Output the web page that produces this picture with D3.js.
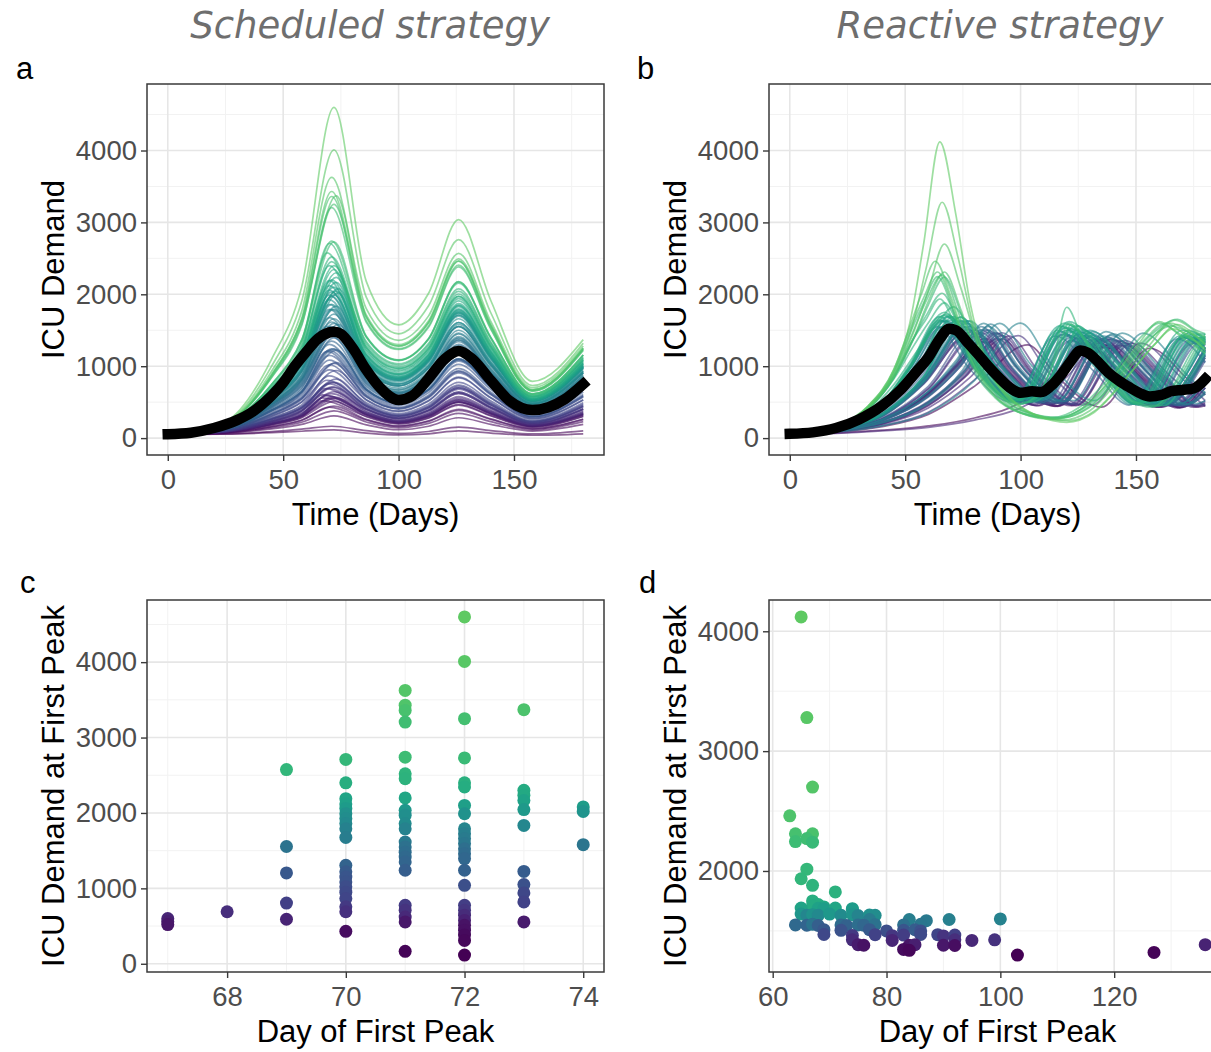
<!DOCTYPE html>
<html>
<head>
<meta charset="utf-8">
<script src="https://cdn.jsdelivr.net/npm/d3@7"></script>
<style>
  body { margin: 0; background: #fff; }
</style>
</head>
<body>
<svg id="fig" width="1211" height="1052"></svg>
<script>
// ---------------- Scheduled strategy: first peak of each simulation ----------------
const schedPeakDay = [
  67,67,67, 68, 69,69,69,69,69,
  70,70,70,70,70,70,70,70,70,70,70,70,70,70,70,70,70,70,70,70,
  71,71,71,71,71,71,71,71,71,71,71,71,71,71,71,71,71,71,71,71,71,71,71,
  72,72,72,72,72,72,72,72,72,72,72,72,72,72,72,72,72,72,72,72,72,72,72,72,72,72,
  73,73,73,73,73,73,73,73,73,73,73,
  74,74,74
];
const schedPeakValue = [
  600,560,520, 690, 2575,1555,1205,805,590,
  2710,2400,2190,2120,2060,1990,1925,1860,1790,1675,1305,1220,1150,1085,1020,950,865,755,690,430,
  3625,3430,3360,3205,2740,2520,2455,2200,2035,1970,1860,1790,1615,1550,1480,1415,1350,1240,775,710,620,555,165,
  4600,4010,3250,2730,2400,2345,2100,1990,1790,1725,1660,1595,1525,1460,1395,1240,1040,775,710,645,575,510,445,380,310,115,
  3370,2300,2235,2165,2045,1835,1225,1050,940,820,555,
  2080,2020,1580
];

// ICU demand of each scheduled run on these days (its first peak is added from the arrays above)
const schedKeyDays = [0, 25, 45, 58, 86, 100, 113, 126, 140, 158, 180];
const schedShape = [
  [50,90,210,330,350,235,330,540,365,180,350],
  [50,87,198,310,327,218,307,504,340,168,328],
  [50,84,186,290,304,201,284,468,315,156,306],
  [50,94,233,375,398,271,380,621,417,202,397],
  [50,188,715,1293,1343,1034,1320,2075,1337,597,1125],
  [50,143,469,808,838,622,848,1365,897,424,822],
  [50,125,380,630,660,475,660,1070,705,335,670],
  [50,100,270,430,460,315,440,720,480,230,460],
  [50,90,207,325,345,231,325,531,359,177,345],
  [50,189,742,1340,1402,1077,1374,2156,1385,611,1152],
  [50,182,677,1213,1260,970,1247,1970,1273,575,1087],
  [50,175,627,1115,1155,886,1155,1843,1195,543,1036],
  [50,171,610,1084,1120,858,1128,1798,1168,533,1016],
  [50,168,595,1057,1090,834,1104,1759,1144,524,998],
  [50,165,578,1025,1055,806,1075,1712,1115,513,977],
  [50,161,561,993,1023,780,1042,1660,1082,500,954],
  [50,158,545,960,990,754,1010,1608,1050,487,931],
  [50,155,528,925,955,726,975,1552,1015,473,907],
  [50,149,499,868,898,674,911,1460,958,450,866],
  [50,130,406,683,713,519,717,1160,763,361,717],
  [50,126,385,640,670,484,671,1087,716,340,679],
  [50,122,365,605,635,455,632,1025,676,322,642],
  [50,119,345,573,603,429,597,966,640,306,606],
  [50,116,326,540,570,403,561,908,602,290,571],
  [50,111,307,505,535,375,522,847,562,272,535],
  [50,105,286,463,493,341,476,776,516,248,493],
  [50,98,258,408,437,297,415,681,454,219,435],
  [50,94,233,375,398,271,380,621,417,202,397],
  [50,77,159,245,252,163,232,387,259,129,257],
  [50,210,930,1760,1800,1360,1700,2570,1620,700,1280],
  [50,206,886,1665,1713,1299,1632,2494,1577,674,1254],
  [50,204,872,1632,1682,1278,1604,2460,1558,666,1244],
  [50,200,841,1562,1612,1232,1542,2382,1512,650,1220],
  [50,190,748,1366,1416,1087,1386,2176,1398,614,1158],
  [50,186,704,1269,1319,1016,1298,2042,1318,592,1115],
  [50,183,690,1239,1288,992,1270,2004,1294,583,1101],
  [50,175,630,1120,1160,890,1160,1850,1200,545,1040],
  [50,167,589,1046,1078,824,1094,1743,1134,520,990],
  [50,164,573,1015,1045,798,1065,1696,1105,509,970],
  [50,158,545,960,990,754,1010,1608,1050,487,931],
  [50,155,528,925,955,726,975,1552,1015,473,907],
  [50,146,484,838,868,646,878,1412,928,439,846],
  [50,142,468,805,835,620,845,1360,894,423,820],
  [50,139,450,770,800,592,810,1304,857,405,792],
  [50,136,434,738,768,566,778,1253,823,389,766],
  [50,132,418,705,735,539,743,1197,787,373,737],
  [50,127,390,650,680,492,682,1104,728,345,688],
  [50,99,263,418,447,305,426,699,465,224,444],
  [50,95,242,385,410,279,391,639,429,207,408],
  [50,91,216,340,361,243,341,558,377,185,361],
  [50,87,197,307,324,216,304,500,337,167,326],
  [50,58,90,124,103,66,92,153,105,58,101],
  [50,230,1100,2100,2180,1575,2015,3040,1910,790,1370],
  [50,220,1000,1900,1960,1450,1840,2760,1740,730,1320],
  [50,201,850,1582,1632,1245,1560,2405,1525,655,1228],
  [50,190,746,1362,1412,1084,1382,2172,1395,613,1155],
  [50,182,677,1213,1260,970,1247,1970,1273,575,1087],
  [50,180,664,1187,1233,948,1222,1939,1253,567,1074],
  [50,170,605,1075,1110,850,1120,1785,1160,530,1010],
  [50,165,578,1025,1055,806,1075,1712,1115,513,977],
  [50,155,528,925,955,726,975,1552,1015,473,907],
  [50,151,511,893,923,696,939,1500,982,460,884],
  [50,148,495,860,890,668,903,1448,951,447,862],
  [50,145,479,828,858,638,867,1396,917,434,838],
  [50,141,461,793,823,610,834,1340,881,416,810],
  [50,138,445,760,790,584,802,1288,846,400,784],
  [50,135,429,728,758,558,767,1236,812,384,758],
  [50,127,390,650,680,492,682,1104,728,345,688],
  [50,117,332,550,580,411,572,926,613,295,582],
  [50,99,263,418,447,305,426,699,465,224,444],
  [50,95,242,385,410,279,391,639,429,207,408],
  [50,92,224,352,374,252,355,578,391,191,374],
  [50,88,202,317,335,224,316,518,349,173,336],
  [50,83,183,285,298,197,278,459,309,153,300],
  [50,78,163,252,261,169,241,401,268,134,265],
  [50,74,145,221,224,143,205,343,229,115,229],
  [50,68,128,190,185,116,165,283,190,97,190],
  [50,55,75,95,70,45,60,100,70,40,60],
  [50,204,874,1637,1686,1281,1608,2465,1561,667,1246],
  [50,178,653,1166,1210,930,1203,1910,1237,560,1063],
  [50,176,638,1137,1178,904,1175,1871,1213,550,1048],
  [50,173,621,1104,1143,876,1146,1827,1186,540,1029],
  [50,167,591,1051,1082,828,1098,1749,1138,522,995],
  [50,157,539,948,978,744,998,1583,1038,482,922],
  [50,126,386,643,673,486,674,1092,719,341,682],
  [50,118,335,555,585,415,578,935,619,297,588],
  [50,111,305,500,530,371,517,839,557,269,530],
  [50,102,275,440,470,323,451,737,491,236,470],
  [50,87,197,307,324,216,304,500,337,167,326],
  [50,169,600,1066,1100,842,1112,1772,1152,527,1004],
  [50,166,585,1039,1070,818,1088,1733,1128,518,986],
  [50,144,475,820,850,632,860,1384,910,430,832]
];

// Mean ICU demand over all scheduled runs
const schedMeanDay   = [0,10,20,30,36,45,50,55,60,65,70,72,75,80,86,92,100,106,113,120,126,132,140,148,158,165,172,180];
const schedMeanValue = [55,75,140,250,350,590,770,1000,1200,1380,1470,1480,1450,1260,950,700,530,590,830,1100,1210,1100,800,520,390,430,540,750];

// ---------------- Reactive strategy: first peak of each simulation ----------------
const reactPeakDay = [
  65,66,67,63,64,67,66,64,67,66,65,67,71,
  67,68,69,67,65,68,69,71,74,74,
  65,66,67,68,70,72,74,75,77,78,
  77,84,87,91,100,
  64,66,67,68,72,73,75,76,78,83,86,
  69,72,77,80,83,85,86,
  69,74,78,81,83,86,89,90,92,
  74,81,92,95,99,
  75,76,84,85,90,92,136,
  83,84,127,103
];
const reactPeakValue = [
  4120,3280,2700,2460,2310,2310,2270,2245,2240,2015,1935,1880,1825,
  1750,1720,1700,1710,1690,1688,1685,1690,1685,1680,
  1640,1630,1635,1630,1640,1630,1635,1628,1632,1630,
  1595,1595,1585,1595,1600,
  1550,1548,1555,1545,1550,1545,1550,1548,1552,1550,1555,
  1510,1505,1510,1500,1505,1510,1500,
  1470,1462,1468,1460,1465,1470,1468,1458,1465,
  1425,1420,1425,1420,1425,
  1385,1380,1380,1385,1380,1378,1385,
  1345,1338,1320,1298
];

// Rest of each reactive run as day, demand pairs (its first peak is added from the arrays above)
const reactPath = [
  [0,55,20,170,34,450,45,950,52,1600,58,2700,72,3100,78,1900,86,1000,96,550,108,300,120,220,132,360,145,800,158,1300,166,1520,174,1400,180,1220],
  [0,55,20,165,34,430,45,900,53,1550,59,2350,73,2500,80,1500,88,850,98,480,110,290,121,240,133,400,146,850,158,1300,168,1580,176,1420,180,1300],
  [0,55,20,160,34,420,45,860,54,1500,60,2050,74,2100,82,1250,92,650,104,350,118,250,130,380,143,820,156,1300,165,1600,174,1450,180,1320],
  [0,55,20,170,34,450,45,950,52,1550,57,2000,70,1950,78,1150,88,620,100,350,114,260,126,400,140,850,152,1350,160,1620,170,1400,180,1180],
  [0,55,20,165,34,440,45,920,52,1500,58,1950,71,1800,79,1050,89,580,101,340,114,270,127,420,141,880,154,1380,163,1600,172,1420,180,1250],
  [0,55,20,160,34,410,45,840,54,1420,60,1900,74,1800,82,1050,92,580,104,340,117,280,130,430,144,900,157,1400,167,1640,176,1480,180,1400],
  [0,55,20,160,34,420,45,860,53,1450,59,1900,73,1750,81,1000,91,560,103,330,116,270,129,420,143,880,156,1380,165,1560,174,1450,180,1350],
  [0,55,20,165,34,430,45,900,52,1450,58,1880,71,1750,79,1000,89,560,101,340,113,280,126,440,140,900,152,1400,160,1600,170,1430,180,1300],
  [0,55,20,158,34,410,45,840,54,1400,60,1850,74,1750,82,1000,92,560,104,350,116,290,129,450,143,920,156,1420,168,1650,176,1500,180,1450],
  [0,55,20,158,34,410,45,830,53,1350,59,1700,73,1600,81,1000,91,600,100,480,108,620,115,1100,121,1600,127,1400,137,900,148,520,158,450,168,800,176,1250,180,1450],
  [0,55,20,160,34,420,45,860,53,1350,59,1650,72,1550,80,1000,90,600,99,470,107,600,114,1050,120,1820,126,1450,136,900,147,520,157,430,167,780,175,1250,180,1400],
  [0,55,20,155,34,400,45,820,54,1300,60,1600,74,1500,82,980,92,600,101,480,109,620,116,1050,122,1580,128,1380,138,880,149,520,159,440,169,800,177,1250,180,1380],
  [0,55,20,145,34,370,45,740,56,1250,63,1550,78,1500,86,1000,95,620,104,500,112,640,119,1050,125,1560,131,1380,141,880,152,520,162,450,172,820,180,1200],
  [0,50,20,150,40,480,52,1000,80,1150,99,540,119,1600,136,1000,151,490,173,1500,180,1350],
  [0,50,20,150,40,470,52,980,81,1120,100,530,120,1580,137,1000,152,480,174,1480,180,1380],
  [0,50,20,140,40,420,55,950,82,1100,101,560,121,1620,138,1020,153,500,175,1450,180,1400],
  [0,50,20,150,40,470,52,980,80,1100,99,520,118,1550,135,980,150,470,171,1430,180,1200],
  [0,50,20,150,40,490,52,1020,78,1100,97,510,117,1560,134,980,149,480,170,1500,180,1250],
  [0,50,20,150,40,470,52,970,81,1100,100,540,120,1540,137,990,152,500,173,1420,180,1330],
  [0,50,20,140,40,420,55,940,82,1090,101,550,122,1520,139,980,154,490,176,1400,180,1380],
  [0,50,20,140,40,410,55,920,84,1100,103,560,124,1560,141,1000,156,500,178,1450,180,1440],
  [0,50,20,120,40,340,58,860,87,1080,106,540,127,1500,144,980,159,490,180,1380],
  [0,50,20,120,40,330,58,850,87,1080,106,560,126,1520,143,990,158,500,180,1420],
  [0,50,20,150,40,480,52,1000,78,1060,97,520,116,1500,133,960,148,470,169,1420,180,1150],
  [0,50,20,150,40,470,52,980,79,1050,98,530,117,1480,134,950,149,480,170,1400,180,1200],
  [0,50,20,150,40,460,52,960,80,1060,99,510,119,1530,136,970,151,470,172,1450,180,1300],
  [0,50,20,145,40,450,53,960,81,1050,100,520,120,1500,137,960,152,480,173,1400,180,1320],
  [0,50,20,140,40,420,55,930,83,1060,102,540,122,1480,139,960,154,490,175,1380,180,1350],
  [0,50,20,135,40,400,56,910,85,1050,104,530,124,1500,141,970,156,480,178,1400,180,1390],
  [0,50,20,120,40,340,58,860,87,1060,106,540,126,1470,143,950,158,480,180,1350],
  [0,50,20,120,40,330,58,840,88,1050,107,520,128,1480,145,960,160,470,180,1250],
  [0,50,20,118,40,320,58,800,90,1060,109,540,130,1500,147,970,162,490,180,1200],
  [0,50,20,115,40,310,58,780,91,1050,110,530,131,1480,148,960,163,480,180,1150],
  [0,50,20,118,40,320,58,800,90,1040,109,520,130,1460,147,950,162,470,180,1180],
  [0,50,20,105,40,260,60,650,72,1080,97,1040,116,520,137,1480,154,960,169,480,180,780],
  [0,50,20,95,40,220,60,500,75,950,100,1030,119,510,140,1450,157,940,172,470,180,620],
  [0,50,20,95,40,210,60,480,75,900,104,1040,123,520,144,1460,161,950,176,480,180,520],
  [0,50,20,85,40,170,60,350,80,800,113,1040,132,520,153,1460,170,950,180,620],
  [0,50,20,150,40,470,52,980,77,1000,96,500,115,1420,132,920,147,460,168,1380,180,1050],
  [0,50,20,148,40,460,52,960,79,1000,98,510,118,1440,135,930,150,470,171,1400,180,1200],
  [0,50,20,145,40,450,53,950,80,1010,99,500,119,1450,136,940,151,460,172,1420,180,1250],
  [0,50,20,142,40,440,54,950,81,1000,100,510,121,1430,138,930,153,470,174,1380,180,1300],
  [0,50,20,135,40,390,56,880,85,1000,104,500,125,1440,142,930,157,460,178,1380,180,1370],
  [0,50,20,125,40,350,57,860,86,1000,105,510,126,1420,143,920,158,470,180,1350],
  [0,50,20,120,40,330,58,830,88,1000,107,500,128,1430,145,930,160,460,180,1260],
  [0,50,20,120,40,320,58,810,89,1000,108,510,129,1420,146,920,161,470,180,1230],
  [0,50,20,115,40,300,58,760,91,1000,110,500,131,1430,148,930,163,460,180,1120],
  [0,50,20,105,40,260,60,650,72,1050,96,1000,115,500,136,1420,153,920,168,460,180,820],
  [0,50,20,100,40,240,60,580,74,1020,99,1000,118,510,139,1430,156,930,171,470,180,650],
  [0,50,20,140,40,420,55,930,82,980,101,500,122,1400,139,900,154,460,175,1350,180,1300],
  [0,50,20,132,40,380,56,860,85,980,104,490,125,1390,142,900,157,450,178,1330,180,1320],
  [0,50,20,118,40,310,58,780,90,980,109,490,130,1400,147,900,162,460,180,1150],
  [0,50,20,110,40,280,60,720,93,970,112,480,133,1380,150,890,165,450,180,900],
  [0,50,20,105,40,260,60,640,72,1030,96,980,115,490,136,1390,153,900,168,460,180,820],
  [0,50,20,102,40,250,60,600,73,1020,98,980,117,490,138,1400,155,900,170,450,180,700],
  [0,50,20,100,40,240,60,580,74,1000,99,970,118,480,139,1380,156,890,171,450,180,640],
  [0,50,20,138,40,410,55,910,82,960,101,480,122,1360,139,880,154,450,175,1320,180,1280],
  [0,50,20,122,40,340,58,820,87,950,106,480,127,1360,144,880,159,450,180,1260],
  [0,50,20,115,40,300,58,750,91,960,110,480,131,1370,148,880,163,450,180,1080],
  [0,50,20,108,40,270,60,690,94,950,113,470,134,1360,151,880,166,450,180,880],
  [0,50,20,105,40,260,60,640,72,1020,96,950,115,480,136,1360,153,880,168,450,180,800],
  [0,50,20,100,40,240,60,570,74,1000,99,960,118,480,139,1370,156,880,171,450,180,620],
  [0,50,20,97,40,220,60,510,75,920,102,950,121,470,142,1360,159,880,174,450,180,520],
  [0,50,20,96,40,215,60,500,75,900,103,950,122,470,143,1350,160,870,175,450,180,500],
  [0,50,20,94,40,205,60,470,76,880,105,950,124,470,145,1360,162,880,177,450,180,470],
  [0,50,20,120,40,330,58,800,87,930,106,460,127,1330,144,860,159,440,180,1230],
  [0,50,20,106,40,265,60,680,94,920,113,460,134,1320,151,860,166,440,180,860],
  [0,50,20,93,40,200,60,460,76,860,105,920,124,460,145,1320,162,860,177,440,180,460],
  [0,50,20,90,40,190,60,420,78,840,108,920,127,460,148,1320,165,860,180,440],
  [0,50,20,86,40,175,60,360,80,810,112,920,131,460,152,1320,169,860,180,520],
  [0,50,20,118,40,320,58,780,88,900,107,450,128,1300,145,840,160,430,180,1150],
  [0,50,20,116,40,310,58,760,89,900,108,450,129,1290,146,840,161,430,180,1120],
  [0,50,20,104,40,255,60,620,72,1000,97,900,116,450,137,1290,154,830,169,430,180,760],
  [0,50,20,102,40,248,60,600,73,990,98,900,117,450,138,1300,155,840,170,430,180,700],
  [0,50,20,96,40,215,60,490,75,880,103,900,122,450,143,1290,160,830,175,430,180,480],
  [0,50,20,93,40,200,60,450,76,850,105,900,124,450,145,1290,162,830,177,430,180,450],
  [0,50,20,65,40,100,60,150,80,250,100,420,120,850,149,900,168,450,180,800],
  [0,50,20,105,40,258,60,630,72,1000,96,880,115,440,136,1270,153,820,168,420,180,760],
  [0,50,20,103,40,252,60,610,72,980,97,870,116,440,137,1260,154,810,169,420,180,700],
  [0,50,20,70,40,110,60,170,80,280,100,500,115,900,140,860,159,430,180,900],
  [0,50,20,84,40,160,60,330,80,720,116,850,135,430,156,1250,173,800,180,600]
];

// Mean ICU demand over all reactive runs
const reactMeanDay   = [0,10,20,30,40,48,55,60,65,69,72,77,82,86,91,95,100,105,109,113,118,122,126,129,133,138,143,147,152,156,161,165,170,175,180];
const reactMeanValue = [60,80,140,260,450,670,930,1120,1380,1520,1500,1330,1150,1000,830,710,630,650,640,720,900,1080,1220,1190,1080,910,790,710,620,580,600,650,670,690,820];

// ---------------- Axis breaks ----------------
const timeTicks = [0, 50, 100, 150];
const timeMinor = [25, 75, 125, 175];
const demandTicks = [0, 1000, 2000, 3000, 4000];
const demandMinor = [500, 1500, 2500, 3500, 4500];
const schedDayTicks = [68, 70, 72, 74];
const schedDayMinor = [67, 69, 71, 73];
const reactDayTicks = [60, 80, 100, 120];
const reactDayMinor = [70, 90, 110, 130];
const reactDemandTicks = [2000, 3000, 4000];
const reactDemandMinor = [1500, 2500, 3500];

// ---------------- Drawing ----------------
const FONT = "'Liberation Sans', Arial, Helvetica, sans-serif";
const TITLE_FONT = "'DejaVu Sans', Verdana, sans-serif";
const svg = d3.select('#fig');
svg.append('rect').attr('width', 1211).attr('height', 1052).attr('fill', '#fff');

function rankColours(values, top) {
  const n = values.length;
  const order = d3.range(n).sort((a, b) => values[a] - values[b]);
  const colours = new Array(n);
  order.forEach((idx, k) => { colours[idx] = d3.interpolateViridis(k / (n - 1) * top); });
  return colours;
}

function expand(ext) {
  const pad = (ext[1] - ext[0]) * 0.05;
  return [ext[0] - pad, ext[1] + pad];
}

function makePanel(o) {
  const x = d3.scaleLinear().domain(o.xDomain).range([o.left, o.left + o.width]);
  const y = d3.scaleLinear().domain(o.yDomain).range([o.top + o.height, o.top]);
  const clipId = 'clip-' + o.tag;
  svg.append('clipPath').attr('id', clipId)
    .append('rect').attr('x', o.left).attr('y', o.top).attr('width', o.width).attr('height', o.height);

  const grid = svg.append('g');
  const vLines = (vals, col, w) => grid.append('g').selectAll('line').data(vals).join('line')
    .attr('x1', d => x(d)).attr('x2', d => x(d)).attr('y1', o.top).attr('y2', o.top + o.height)
    .attr('stroke', col).attr('stroke-width', w);
  const hLines = (vals, col, w) => grid.append('g').selectAll('line').data(vals).join('line')
    .attr('y1', d => y(d)).attr('y2', d => y(d)).attr('x1', o.left).attr('x2', o.left + o.width)
    .attr('stroke', col).attr('stroke-width', w);
  vLines(o.xMinor, '#f2f2f2', 1.0);
  hLines(o.yMinor, '#f2f2f2', 1.0);
  vLines(o.xTicks, '#e6e6e6', 1.6);
  hLines(o.yTicks, '#e6e6e6', 1.6);

  const body = svg.append('g').attr('clip-path', `url(#${clipId})`);

  const finish = () => {
    svg.append('rect').attr('x', o.left).attr('y', o.top).attr('width', o.width).attr('height', o.height)
      .attr('fill', 'none').attr('stroke', '#3a3a3a').attr('stroke-width', 1.5);

    const gx = svg.append('g').attr('transform', `translate(0,${o.top + o.height})`)
      .call(d3.axisBottom(x).tickValues(o.xTicks).tickSize(6).tickPadding(8).tickFormat(d3.format('d')));
    const gy = svg.append('g').attr('transform', `translate(${o.left},0)`)
      .call(d3.axisLeft(y).tickValues(o.yTicks).tickSize(6).tickPadding(4).tickFormat(d3.format('d')));
    [gx, gy].forEach(g => {
      g.select('.domain').remove();
      g.attr('font-size', 27.5).attr('font-family', FONT);
      g.selectAll('line').attr('stroke', '#3a3a3a').attr('stroke-width', 1.4);
      g.selectAll('text').attr('fill', '#4d4d4d');
    });

    svg.append('text').attr('x', o.left + o.width / 2).attr('y', o.top + o.height + 70)
      .attr('text-anchor', 'middle').attr('font-family', FONT).attr('font-size', 31).attr('fill', '#000')
      .text(o.xTitle);
    svg.append('text').attr('transform', `translate(${o.left - 83},${o.top + o.height / 2}) rotate(-90)`)
      .attr('text-anchor', 'middle').attr('font-family', FONT).attr('font-size', 31).attr('fill', '#000')
      .text(o.yTitle);
    svg.append('text').attr('x', o.tagX).attr('y', o.tagY)
      .attr('font-family', FONT).attr('font-size', 31).attr('fill', '#000').text(o.tag);
  };
  return { x, y, body, finish };
}

const curve = (x, y) => d3.line().x(d => x(d[0])).y(d => y(d[1])).curve(d3.curveMonotoneX);

// Strategy headings
svg.append('text').attr('x', 370).attr('y', 38).attr('text-anchor', 'middle')
  .attr('font-family', TITLE_FONT).attr('font-style', 'italic').attr('font-size', 37).attr('fill', '#6e6e6e')
  .text('Scheduled strategy');
svg.append('text').attr('x', 1000).attr('y', 38).attr('text-anchor', 'middle')
  .attr('font-family', TITLE_FONT).attr('font-style', 'italic').attr('font-size', 37).attr('fill', '#6e6e6e')
  .text('Reactive strategy');

const schedColours = rankColours(schedPeakValue, 0.75);
const reactColours = rankColours(reactPeakValue, 0.75);
const timeDomain = expand([0, 180]);
const demandDomain = [-235, 4925];

// a: scheduled trajectories
{
  const p = makePanel({ tag: 'a', tagX: 16, tagY: 79, left: 147, top: 84, width: 457, height: 371,
    xDomain: timeDomain, yDomain: demandDomain, xTicks: timeTicks, xMinor: timeMinor,
    yTicks: demandTicks, yMinor: demandMinor, xTitle: 'Time (Days)', yTitle: 'ICU Demand' });
  const line = curve(p.x, p.y);
  const runs = schedShape.map((row, i) => {
    const pts = row.map((v, k) => [schedKeyDays[k], v]);
    pts.push([schedPeakDay[i], schedPeakValue[i]]);
    pts.sort((a, b) => a[0] - b[0]);
    return { pts, colour: schedColours[i], v: schedPeakValue[i] };
  }).sort((a, b) => a.v - b.v);
  p.body.append('g').selectAll('path').data(runs).join('path')
    .attr('d', d => line(d.pts)).attr('fill', 'none').attr('stroke', d => d.colour)
    .attr('stroke-width', 1.7).attr('stroke-opacity', 0.6);
  p.body.append('path').attr('d', line(schedMeanDay.map((d, i) => [d, schedMeanValue[i]])))
    .attr('fill', 'none').attr('stroke', '#000').attr('stroke-width', 10.5)
    .attr('stroke-linecap', 'square').attr('stroke-linejoin', 'round');
  p.finish();
}

// b: reactive trajectories
{
  const p = makePanel({ tag: 'b', tagX: 637, tagY: 79, left: 769, top: 84, width: 457, height: 371,
    xDomain: timeDomain, yDomain: demandDomain, xTicks: timeTicks, xMinor: timeMinor,
    yTicks: demandTicks, yMinor: demandMinor, xTitle: 'Time (Days)', yTitle: 'ICU Demand' });
  const line = curve(p.x, p.y);
  const runs = reactPath.map((flat, i) => {
    const pts = [];
    for (let k = 0; k < flat.length; k += 2) pts.push([flat[k], flat[k + 1]]);
    pts.push([reactPeakDay[i], reactPeakValue[i]]);
    pts.sort((a, b) => a[0] - b[0]);
    return { pts, colour: reactColours[i], v: reactPeakValue[i] };
  }).sort((a, b) => a.v - b.v);
  p.body.append('g').selectAll('path').data(runs).join('path')
    .attr('d', d => line(d.pts)).attr('fill', 'none').attr('stroke', d => d.colour)
    .attr('stroke-width', 1.7).attr('stroke-opacity', 0.6);
  p.body.append('path').attr('d', line(reactMeanDay.map((d, i) => [d, reactMeanValue[i]])))
    .attr('fill', 'none').attr('stroke', '#000').attr('stroke-width', 10.5)
    .attr('stroke-linecap', 'square').attr('stroke-linejoin', 'round');
  p.finish();
}

// c: scheduled first peaks
{
  const p = makePanel({ tag: 'c', tagX: 20, tagY: 593, left: 147, top: 600, width: 457, height: 372,
    xDomain: expand(d3.extent(schedPeakDay)), yDomain: expand(d3.extent(schedPeakValue)),
    xTicks: schedDayTicks, xMinor: schedDayMinor, yTicks: demandTicks, yMinor: demandMinor,
    xTitle: 'Day of First Peak', yTitle: 'ICU Demand at First Peak' });
  p.body.append('g').selectAll('circle').data(schedPeakDay).join('circle')
    .attr('cx', d => p.x(d)).attr('cy', (d, i) => p.y(schedPeakValue[i])).attr('r', 6.5)
    .attr('fill', (d, i) => schedColours[i]);
  p.finish();
}

// d: reactive first peaks
{
  const p = makePanel({ tag: 'd', tagX: 639, tagY: 593, left: 769, top: 600, width: 457, height: 372,
    xDomain: expand(d3.extent(reactPeakDay)), yDomain: expand(d3.extent(reactPeakValue)),
    xTicks: reactDayTicks, xMinor: reactDayMinor, yTicks: reactDemandTicks, yMinor: reactDemandMinor,
    xTitle: 'Day of First Peak', yTitle: 'ICU Demand at First Peak' });
  p.body.append('g').selectAll('circle').data(reactPeakDay).join('circle')
    .attr('cx', d => p.x(d)).attr('cy', (d, i) => p.y(reactPeakValue[i])).attr('r', 6.5)
    .attr('fill', (d, i) => reactColours[i]);
  p.finish();
}
</script>
</body>
</html>
